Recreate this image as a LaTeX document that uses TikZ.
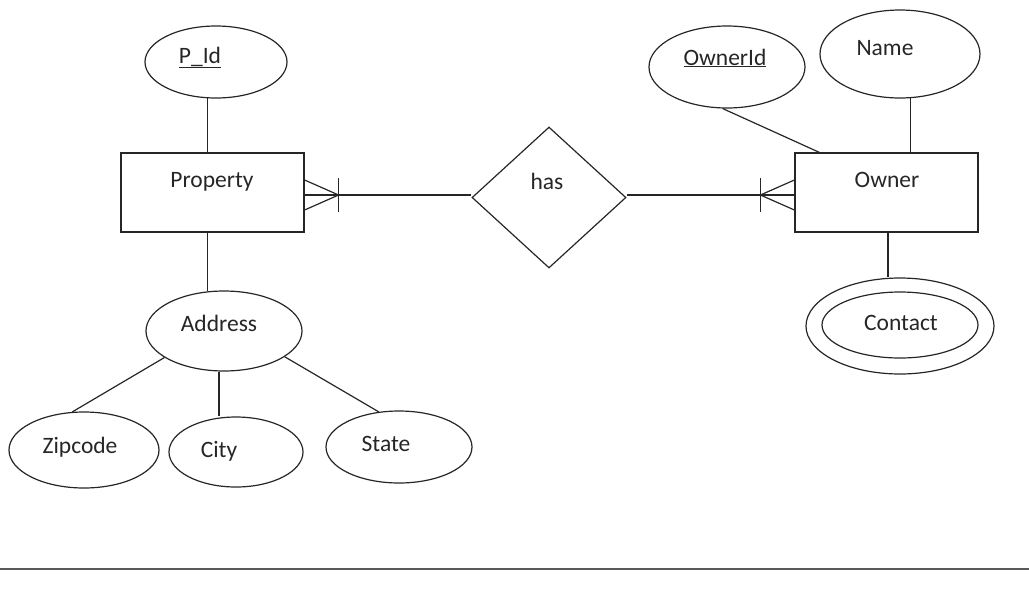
\documentclass[tikz,border=0pt]{standalone}
\usepackage{fontspec}
\setmainfont{Carlito}
\usetikzlibrary{shapes.geometric,calc}
\begin{document}
\begin{tikzpicture}[x=1pt,y=-1pt, line width=1.2pt, color=black!85,
  attr/.style={ellipse, draw, inner sep=0pt},
  ent/.style={rectangle, draw, inner sep=0pt, minimum width=183pt, minimum height=79pt},
  rel/.style={diamond, draw, inner sep=0pt, minimum width=154pt, minimum height=141pt},
  txt/.style={font=\fontsize{23.5}{25}\selectfont, inner sep=0pt, anchor=base}]
\useasboundingbox (0,0) rectangle (1029,598);
% entities
\node[ent] (prop) at (212.5,192.5) {};
\node[ent] (owner) at (886.5,192.5) {};
\node[rel] (has) at (549,197.5) {};
% attributes
\node[attr, minimum width=142pt, minimum height=72pt] (pid) at (216,62) {};
\node[attr, minimum width=156pt, minimum height=80pt] (addr) at (224,331) {};
\node[attr, minimum width=150pt, minimum height=76pt] (zip) at (84,450) {};
\node[attr, minimum width=134pt, minimum height=70pt] (city) at (236,452) {};
\node[attr, minimum width=146pt, minimum height=72pt] (state) at (399,447) {};
\node[attr, minimum width=156pt, minimum height=82pt] (oid) at (727,67) {};
\node[attr, minimum width=160pt, minimum height=88pt] (name) at (900,54) {};
\node[attr, minimum width=188pt, minimum height=96pt] (contact) at (900,326) {};
\node[attr, minimum width=156pt, minimum height=66pt] (contacti) at (900,325) {};
% texts
\node[txt] (propt) at (212,187) {Property};
\node[txt] (ownert) at (887,187) {Owner};
\node[txt] (hast) at (547,189) {has};
\node[txt] (pidt) at (200,63) {\underline{P\_Id}};
\node[txt] (addrt) at (219,331) {Address};
\node[txt] (zipt) at (80,453) {Zipcode};
\node[txt] (cityt) at (219,457) {City};
\node[txt] (statet) at (386,451) {State};
\node[txt] (oidt) at (725,65) {\underline{OwnerId}};
\node[txt] (namet) at (885,55) {Name};
\node[txt] (contactt) at (901,330) {Contact};
% connectors
\draw (pid.257) -- (pid.257 |- prop.north);
\draw (addr.113) -- (addr.113 |- prop.south);
\draw (addr.204) -- (zip.107);
\draw (addr.263) -- (addr.263 |- city.north);
\draw (addr.337) -- (state.120);
\draw (oid.264) -- ($(owner.north west)+(25,0)$);
\draw (name.283) -- (name.283 |- owner.north);
\draw ($(owner.south)+(1.5,0)$) -- ($(owner.south |- contact.north)+(1.5,0)$);
% relationship lines with crow's feet
\coordinate (pe) at ($(prop.east)+(0,2.5)$);
\coordinate (oe) at ($(owner.west)+(0,2.5)$);
\draw (pe) -- (pe -| has.west);
\draw (oe) -- (oe -| has.east);
\draw ($(pe)+(0,-15)$) -- ($(pe)+(34,0)$) -- ($(pe)+(0,15)$);
\draw ($(pe)+(34,-17)$) -- ($(pe)+(34,17)$);
\draw ($(oe)+(0,-15)$) -- ($(oe)+(-34,0)$) -- ($(oe)+(0,15)$);
\draw ($(oe)+(-34,-17)$) -- ($(oe)+(-34,17)$);
% separator
\coordinate (sl) at (0,569);
\coordinate (sr) at (1029,569);
\draw[line width=1.5pt, draw=black!65] (sl) -- (sr);
\end{tikzpicture}
\end{document}
